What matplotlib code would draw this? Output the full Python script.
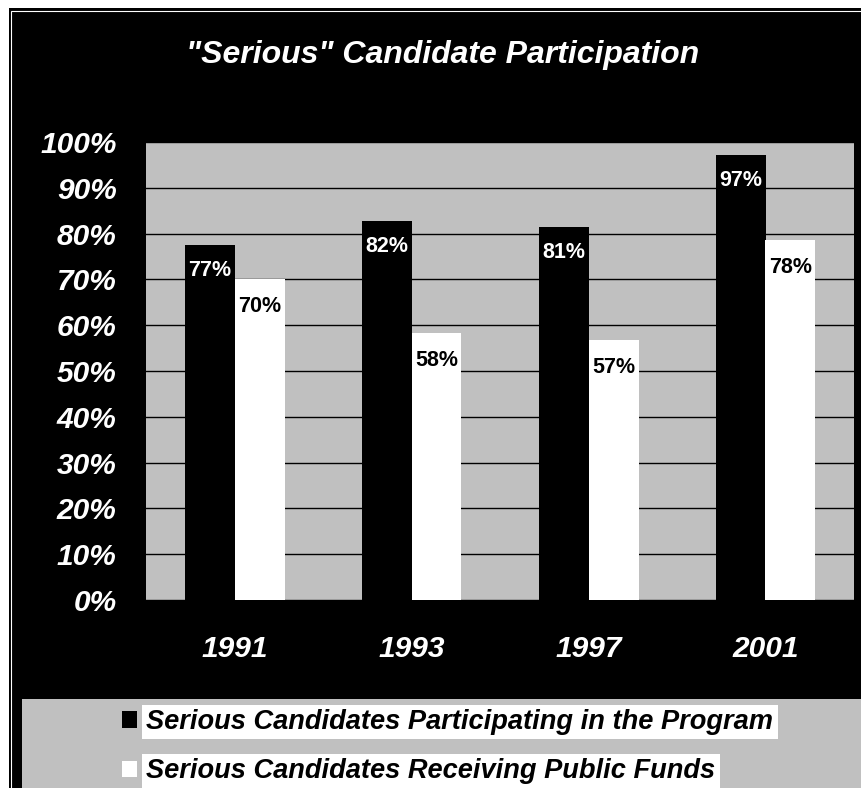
import matplotlib.pyplot as plt
from matplotlib.patches import Rectangle
import numpy as np

# data
years = ["1991", "1993", "1997", "2001"]
participating = [77.5, 82.7, 81.4, 97.2]
receiving = [70.1, 58.4, 56.8, 78.5]
participating_labels = ["77%", "82%", "81%", "97%"]
receiving_labels = ["70%", "58%", "57%", "78%"]
series_names = ["Serious Candidates Participating in the Program",
                "Serious Candidates Receiving Public Funds"]
yticks = list(range(0, 101, 10))

W, H = 862, 788
GRAY = "#c0c0c0"
plt.rcParams['font.family'] = ['Liberation Sans', 'DejaVu Sans']

fig = plt.figure(figsize=(W / 100, H / 100), dpi=100, facecolor='white')


def box(x0, y0, x1, y1):
    # pixel box measured from top-left -> figure fraction (l, b, w, h)
    return (x0 / W, 1 - y1 / H, (x1 - x0) / W, (y1 - y0) / H)


# black panel with thin white inner line
l, b, w, h = box(9, 8, 870, 800)
fig.add_artist(Rectangle((l, b), w, h, transform=fig.transFigure,
                         facecolor='black', edgecolor='none', zorder=0))
l, b, w, h = box(11.5, 10.5, 880, 810)
fig.add_artist(Rectangle((l, b), w, h, transform=fig.transFigure,
                         facecolor='none', edgecolor='white', lw=0.8, zorder=1))
# gray legend band
l, b, w, h = box(22, 699, 870, 800)
fig.add_artist(Rectangle((l, b), w, h, transform=fig.transFigure,
                         facecolor=GRAY, edgecolor='none', zorder=1))

ax = fig.add_axes(box(146, 142, 854, 600))
ax.set_facecolor(GRAY)

x = np.arange(len(years))
wbar = 50 / 177
b1 = ax.bar(x - wbar / 2, participating, wbar, color='black', label=series_names[0], zorder=2)
b2 = ax.bar(x + wbar / 2, receiving, wbar, color='white', label=series_names[1], zorder=2)

for bars, labels, col, off in [(b1, participating_labels, 'white', -25.5),
                               (b2, receiving_labels, 'black', -27.5)]:
    for rect, lab in zip(bars, labels):
        ax.annotate(lab, (rect.get_x() + rect.get_width() / 2, rect.get_height()),
                    xytext=(0, off * 0.72), textcoords='offset points',
                    ha='center', va='center', color=col,
                    fontsize=15.5, fontweight='bold', zorder=3)

ax.set_xlim(-0.5, 3.5)
ax.set_ylim(0, 100)
ax.set_yticks(yticks)
ax.set_yticklabels([f"{t}%" for t in yticks])
ax.set_xticks(x)
ax.set_xticklabels(years)
ax.yaxis.grid(True, color='black', lw=1.0)
ax.set_axisbelow(True)
for s in ax.spines.values():
    s.set_visible(False)
ax.tick_params(axis='y', length=0, pad=21, labelcolor='white')
ax.tick_params(axis='x', length=0, pad=25.5, labelcolor='white')
for t in ax.get_yticklabels() + ax.get_xticklabels():
    t.set_fontsize(21.5)
    t.set_fontweight('bold')
    t.set_fontstyle('italic')

fig.text(442.5 / W, 1 - 63 / H, '"Serious" Candidate Participation',
         ha='center', va='baseline', color='white',
         fontsize=23, fontweight='bold', fontstyle='italic')

fs = 19.6
fpx = fs / 0.72
leg = fig.legend(handles=[b1, b2], loc='upper left',
                 bbox_to_anchor=(121.7 / W, 1 - 709 / H),
                 frameon=False, borderpad=0, borderaxespad=0,
                 handlelength=15 / fpx, handleheight=15 / fpx,
                 handletextpad=0.36, labelspacing=0.86,
                 prop={'family': 'Liberation Sans', 'weight': 'bold',
                       'style': 'italic', 'size': fs})
for t in leg.get_texts():
    t.set_color('black')
    t.set_bbox(dict(facecolor='white', edgecolor='none', boxstyle='square,pad=0.15'))

fig.savefig("out.png", dpi=100, facecolor='white')
